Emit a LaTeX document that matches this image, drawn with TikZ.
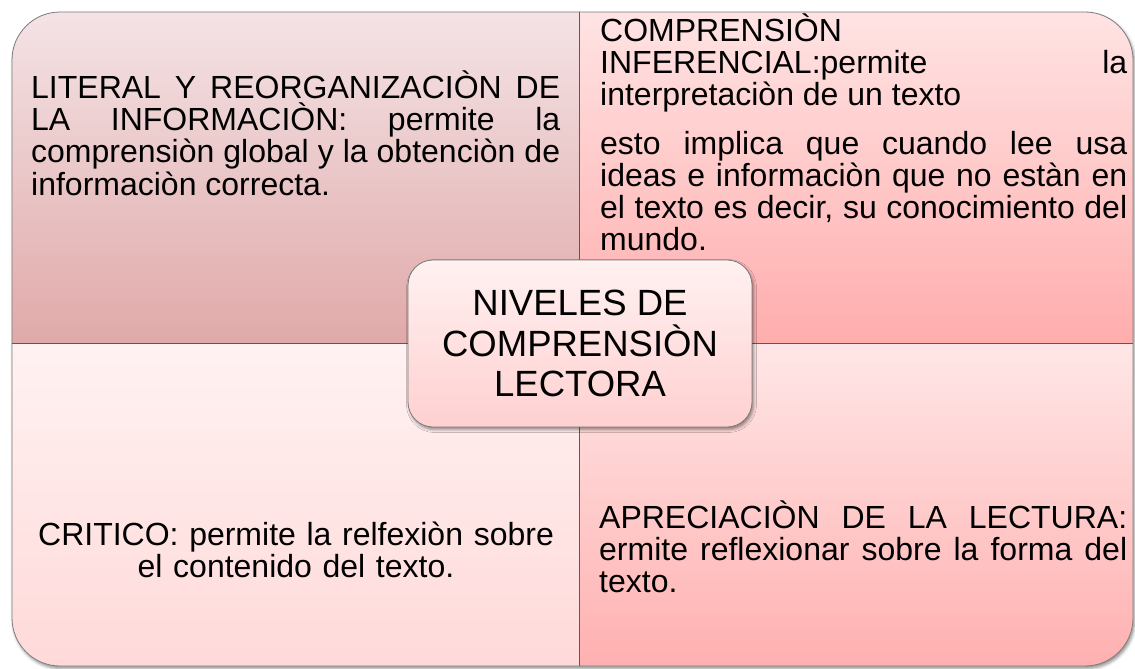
\documentclass[tikz,border=0pt]{standalone}
\usepackage{fontspec}
\setmainfont{Liberation Sans}
\usetikzlibrary{shadows.blur}
\definecolor{tlTop}{HTML}{F4E3E5}
\definecolor{tlBot}{HTML}{E0A9A9}
\definecolor{trTop}{HTML}{FFE3E3}
\definecolor{trBot}{HTML}{FFADAD}
\definecolor{blTop}{HTML}{FFF2F2}
\definecolor{blBot}{HTML}{FFD9D9}
\definecolor{brTop}{HTML}{FFE7E7}
\definecolor{brBot}{HTML}{FFB0B0}
\definecolor{cTop}{HTML}{FFF1F1}
\definecolor{cBot}{HTML}{FFD0D0}
\definecolor{edgeGrey}{HTML}{7A7A7A}
\definecolor{divGrey}{HTML}{5A5A5A}
\newcommand{\qsetup}{\fontsize{32pt}{32.3pt}\selectfont\hyphenpenalty=10000\relax\tolerance=10000\relax}
\newcommand{\firststrut}{\rule{0pt}{32pt}}
\begin{document}
\begin{tikzpicture}[x=1pt,y=-1pt,
  softshadow/.style={blur shadow={shadow xshift=1.5pt, shadow yshift=-2.5pt, shadow blur radius=3pt, shadow opacity=45}},
  quadtext/.style={inner sep=0pt, anchor=north west, text width=#1, align=justify,
     font=\qsetup, text=black},
  centertext/.style={inner sep=0pt, anchor=north, text width=#1, align=center,
     font=\qsetup, text=black},
  centerbox/.style={draw=edgeGrey, line width=0.8pt, rounded corners=25pt, top color=cTop, bottom color=cBot,
     minimum width=344pt, minimum height=167pt, inner sep=0pt, align=center,
     font=\fontsize{36.5pt}{40.5pt}\selectfont, text=black, softshadow},
  outeredge/.style={draw=edgeGrey, line width=0.8pt},
  divider/.style={draw=divGrey, line width=1pt}]
\useasboundingbox (0,0) rectangle (1135,669);
% outer shadow base
\fill[white, softshadow, rounded corners=48pt] (12,12) rectangle (1133,666);
% quadrants
\begin{scope}
  \clip[rounded corners=48pt] (12,12) rectangle (1133,666);
  \shade[top color=tlTop, bottom color=tlBot] (12,12) rectangle (579,343);
  \shade[top color=trTop, bottom color=trBot] (579,12) rectangle (1133,343);
  \shade[top color=blTop, bottom color=blBot] (12,343) rectangle (579,666);
  \shade[top color=brTop, bottom color=brBot] (579,343) rectangle (1133,666);
\end{scope}
\path[outeredge, rounded corners=48pt] (12,12) rectangle (1133,666);
\coordinate (vtop) at (579,12);
\coordinate (vbot) at (579,666);
\coordinate (hleft) at (12,343);
\coordinate (hright) at (1133,343);
\draw[divider] (vtop) -- (vbot);
\draw[divider] (hleft) -- (hright);
% quadrant texts
\node[quadtext=529pt] (tl) at (31,66) {\firststrut LITERAL Y REORGANIZACIÒN DE\linebreak
LA INFORMACIÒN: permite la\linebreak
comprensiòn global y la obtenciòn de\linebreak
informaciòn correcta.};
\node[quadtext=527pt] (tr) at (600,9) {\firststrut COMPRENSIÒN\newline
INFERENCIAL:permite la\linebreak
interpretaciòn de un texto\par\vspace{16pt}
esto implica que cuando lee usa\linebreak
ideas e informaciòn que no estàn en\linebreak
el texto es decir, su conocimiento del\linebreak
mundo.};
\node[centertext=528pt] (bl) at (296,513) {\firststrut CRITICO: permite la relfexiòn sobre\\
el contenido del texto.};
\node[quadtext=528pt] (br) at (599,496) {\firststrut APRECIACIÒN DE LA LECTURA:\linebreak
ermite reflexionar sobre la forma del\linebreak
texto.};
% central box
\node[centerbox] (center) at (580,343.5) {NIVELES DE\\COMPRENSIÒN\\LECTORA};
\end{tikzpicture}
\end{document}
